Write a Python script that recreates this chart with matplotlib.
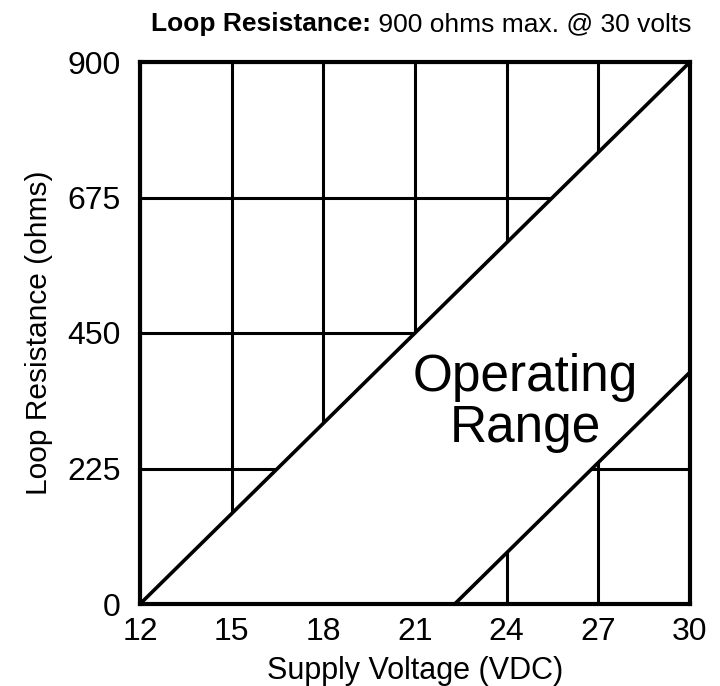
import matplotlib.pyplot as plt
import numpy as np

plt.rcParams['font.family'] = ['Liberation Sans', 'DejaVu Sans']

# Data
voltage_ticks = [12, 15, 18, 21, 24, 27, 30]
resistance_ticks = [0, 225, 450, 675, 900]

# upper limit line (max loop resistance) and lower limit line
upper_v = np.array([12, 30])
upper_r = np.array([0, 900])
lower_v = np.array([22.3, 30])
lower_r = np.array([0, 385])

fig = plt.figure(figsize=(7.2, 6.86), dpi=100)
ax = fig.add_axes([140 / 720, 82 / 686, 550 / 720, 542 / 686])

ax.set_xlim(12, 30)
ax.set_ylim(0, 900)
ax.set_xticks(voltage_ticks)
ax.set_yticks(resistance_ticks)
ax.tick_params(length=0, labelsize=23)
ax.tick_params(axis='x', pad=9)
ax.tick_params(axis='y', pad=14)

ax.set_axisbelow(True)
ax.grid(True, color='black', linewidth=2.2)

# white out the grid inside the operating range
poly_v = np.concatenate([upper_v, lower_v[::-1]])
poly_r = np.concatenate([upper_r, lower_r[::-1]])
ax.fill(poly_v, poly_r, color='white', zorder=1)

ax.plot(upper_v, upper_r, color='black', linewidth=2.6, zorder=2, solid_capstyle='butt')
ax.plot(lower_v, lower_r, color='black', linewidth=2.6, zorder=2, solid_capstyle='butt')

for s in ax.spines.values():
    s.set_linewidth(3)

ax.text(24.6, 334, 'Operating\nRange', fontsize=37, ha='center', va='center',
        linespacing=1.05, zorder=3)

ax.set_xlabel('Supply Voltage (VDC)', fontsize=22, labelpad=7)
ax.set_ylabel('Loop Resistance (ohms)', fontsize=21.5, labelpad=10)

# two-part title: bold label then normal text
t1 = fig.text(371 / 720, 1 - 31 / 686, 'Loop Resistance:', fontsize=19,
              fontweight='bold', ha='right', va='baseline')
fig.canvas.draw()
ax.annotate(' 900 ohms max. @ 30 volts', xy=(1, 0), xycoords=t1,
            fontsize=19, ha='left', va='bottom')

plt.savefig('out.png', dpi=100)
